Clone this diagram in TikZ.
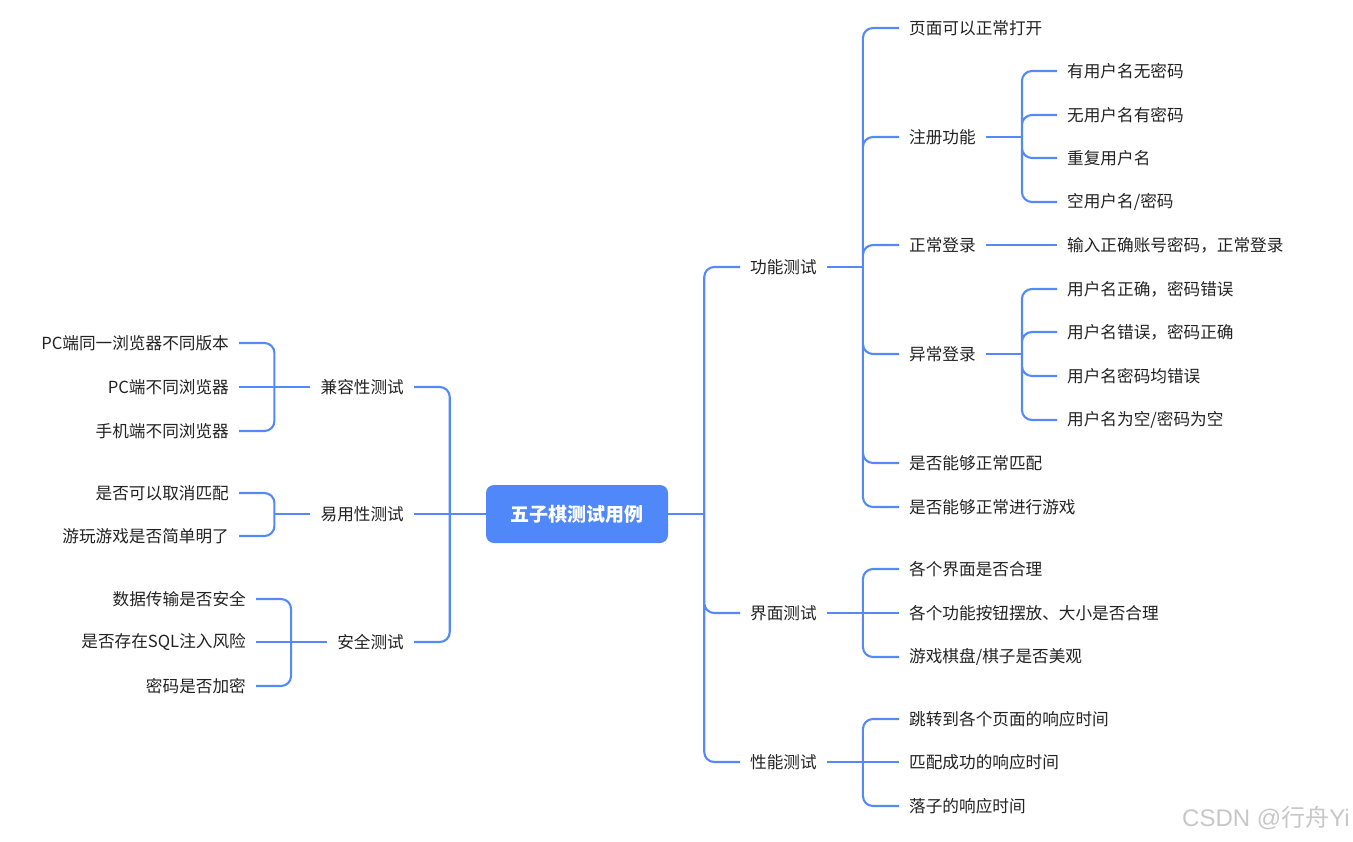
\documentclass[tikz,border=0pt]{standalone}
\usepackage{fontspec}
\setmainfont{Noto Sans CJK SC}
\newfontfamily\marklatin{Liberation Sans}
\usetikzlibrary{positioning}
\definecolor{mapblue}{RGB}{84,138,247}
\definecolor{rootblue}{RGB}{80,136,250}
\definecolor{leaftext}{RGB}{34,34,34}

\begin{document}
\begin{tikzpicture}[
    x=0.03cm, y=-0.03cm,
    root/.style={fill=rootblue, rounded corners=0.24cm, minimum width=5.46cm, minimum height=1.74cm, text=white, font=\fontsize{16.2}{19}\selectfont\bfseries},
    rtopic/.style={anchor=west, inner xsep=8.5pt, inner ysep=1pt, text=leaftext, font=\fontsize{14.2}{17}\selectfont},
    ltopic/.style={rtopic, anchor=east},
    link/.style={draw=mapblue, line width=1.8pt, rounded corners=0.3cm}
]
\useasboundingbox (0,0) rectangle (1353,841);

\node[root] (root) at (577,514) {五子棋测试用例};

% right side
\node[rtopic] (gn) at (740,267) {功能测试};
\node[rtopic] (jm) at (740,613) {界面测试};
\node[rtopic] (xn) at (740,762) {性能测试};

\node[rtopic] (gn1) at (899,28) {页面可以正常打开};
\node[rtopic] (zc) at (899,137) {注册功能};
\node[rtopic] (zl) at (899,245) {正常登录};
\node[rtopic] (yc) at (899,354) {异常登录};
\node[rtopic] (gn5) at (899,463) {是否能够正常匹配};
\node[rtopic] (gn6) at (899,507) {是否能够正常进行游戏};

\node[rtopic] (zc1) at (1057,71) {有用户名无密码};
\node[rtopic] (zc2) at (1057,115) {无用户名有密码};
\node[rtopic] (zc3) at (1057,158) {重复用户名};
\node[rtopic] (zc4) at (1057,202) {空用户名/密码};
\node[rtopic] (zl1) at (1057,245) {输入正确账号密码，正常登录};
\node[rtopic] (yc1) at (1057,289) {用户名正确，密码错误};
\node[rtopic] (yc2) at (1057,332) {用户名错误，密码正确};
\node[rtopic] (yc3) at (1057,376) {用户名密码均错误};
\node[rtopic] (yc4) at (1057,420) {用户名为空/密码为空};

\node[rtopic] (jm1) at (899,569) {各个界面是否合理};
\node[rtopic] (jm2) at (899,613) {各个功能按钮摆放、大小是否合理};
\node[rtopic] (jm3) at (899,657) {游戏棋盘/棋子是否美观};

\node[rtopic] (xn1) at (899,719) {跳转到各个页面的响应时间};
\node[rtopic] (xn2) at (899,762) {匹配成功的响应时间};
\node[rtopic] (xn3) at (899,806) {落子的响应时间};

% left side
\node[ltopic] (jr) at (414,387) {兼容性测试};
\node[ltopic] (yy) at (414,514) {易用性测试};
\node[ltopic] (aq) at (414,642) {安全测试};

\node[ltopic] (jr1) at (239,343) {PC端同一浏览器不同版本};
\node[ltopic] (jr2) at (239,387) {PC端不同浏览器};
\node[ltopic] (jr3) at (239,431) {手机端不同浏览器};
\node[ltopic] (yy1) at (239,493) {是否可以取消匹配};
\node[ltopic] (yy2) at (239,536) {游玩游戏是否简单明了};
\node[ltopic] (aq1) at (256,599) {数据传输是否安全};
\node[ltopic] (aq2) at (256,642) {是否存在SQL注入风险};
\node[ltopic] (aq3) at (256,686) {密码是否加密};

% connectors
\draw[link] (root.east) -- ++(36,0) coordinate (troot);
\draw[link] (troot) |- (gn.west) (troot) |- (jm.west) (troot) |- (xn.west);
\draw[link] (root.west) -- ++(-36,0) coordinate (lroot);
\draw[link] (lroot) |- (jr.east) (lroot) |- (aq.east);
\draw[link] (lroot) -- (yy.east);

\draw[link] (gn.east) -- ++(36,0) coordinate (tgn);
\draw[link] (tgn) |- (gn1.west) (tgn) |- (zc.west) (tgn) |- (zl.west)
    (tgn) |- (yc.west) (tgn) |- (gn5.west) (tgn) |- (gn6.west);

\draw[link] (zc.east) -- ++(36,0) coordinate (tzc);
\draw[link] (tzc) |- (zc1.west) (tzc) |- (zc2.west) (tzc) |- (zc3.west) (tzc) |- (zc4.west);
\draw[link] (zl.east) -- (zl1.west);
\draw[link] (yc.east) -- ++(36,0) coordinate (tyc);
\draw[link] (tyc) |- (yc1.west) (tyc) |- (yc2.west) (tyc) |- (yc3.west) (tyc) |- (yc4.west);

\draw[link] (jm.east) -- ++(36,0) coordinate (tjm);
\draw[link] (tjm) |- (jm1.west) (tjm) |- (jm3.west);
\draw[link] (jm.east) -- (jm2.west);
\draw[link] (xn.east) -- ++(36,0) coordinate (txn);
\draw[link] (txn) |- (xn1.west) (txn) |- (xn3.west);
\draw[link] (xn.east) -- (xn2.west);

\draw[link] (jr.west) -- ++(-36,0) coordinate (tjr);
\draw[link] (tjr) |- (jr1.east) (tjr) |- (jr3.east);
\draw[link] (jr.west) -- (jr2.east);
\draw[link] (yy.west) -- ++(-36,0) coordinate (tyy);
\draw[link] (tyy) |- (yy1.east) (tyy) |- (yy2.east);
\draw[link] (aq.west) -- ++(-36,0) coordinate (taq);
\draw[link] (taq) |- (aq1.east) (taq) |- (aq3.east);
\draw[link] (aq.west) -- (aq2.east);

\node[anchor=east, inner sep=0pt, text=black!22, font=\fontsize{20.5}{22}\selectfont] (mark) at (1350,818) {{\marklatin CSDN @}行舟{\marklatin Yi}};
\end{tikzpicture}
\end{document}
